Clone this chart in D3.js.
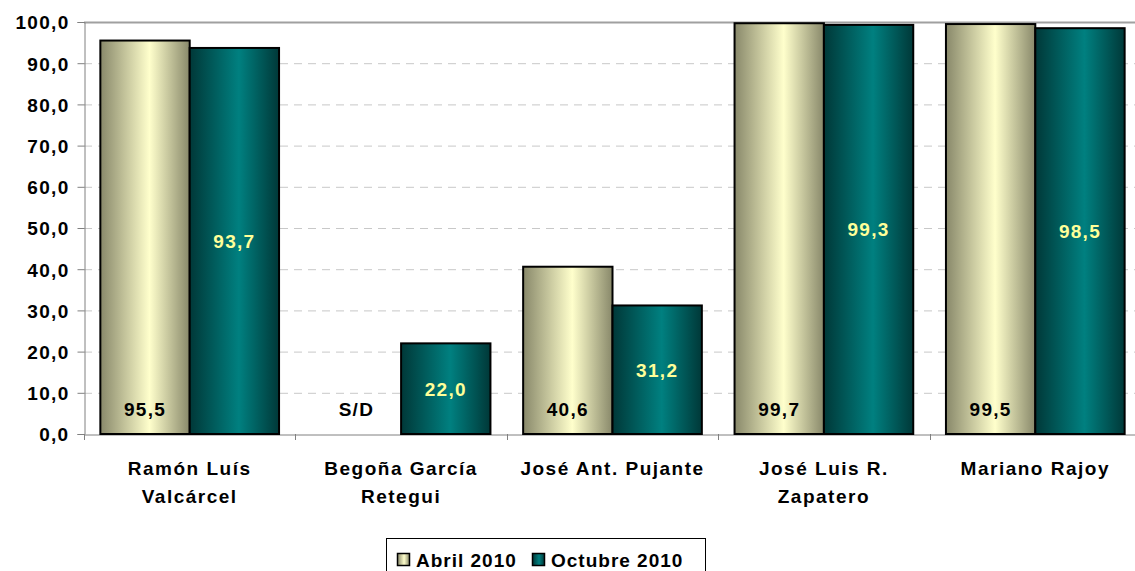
<!DOCTYPE html>
<html>
<head>
<meta charset="utf-8">
<script src="https://cdn.jsdelivr.net/npm/d3@7"></script>
<style>
  body { margin: 0; background: #fff; }
  svg text { font-family: "Liberation Sans", Arial, sans-serif; font-weight: bold; }
</style>
</head>
<body>
<div id="chart"></div>
<script>
document.addEventListener('DOMContentLoaded', function () {
  var categories = [["Ramón Luís", "Valcárcel"], ["Begoña García", "Retegui"], ["José Ant. Pujante"], ["José Luis R.", "Zapatero"], ["Mariano Rajoy"]];
  var series = ["Abril 2010", "Octubre 2010"];
  var abril = [95.5, null, 40.6, 99.7, 99.5];
  var octubre = [93.7, 22.0, 31.2, 99.3, 98.5];
  var yTicks = [0, 10, 20, 30, 40, 50, 60, 70, 80, 90, 100];

  var width = 1135, height = 571;
  var margin = { top: 22, right: -6, bottom: 137, left: 84 };

  var fmt = function(v) { return d3.format(".1f")(v).replace(".", ","); };

  var svg = d3.select("#chart").append("svg")
      .attr("width", width)
      .attr("height", height);

  var defs = svg.append("defs");
  function grad(id, edge, center) {
    var g = defs.append("linearGradient").attr("id", id)
        .attr("x1", "0%").attr("x2", "100%").attr("y1", "0%").attr("y2", "0%");
    g.append("stop").attr("offset", "0%").attr("stop-color", edge);
    g.append("stop").attr("offset", "55%").attr("stop-color", center);
    g.append("stop").attr("offset", "100%").attr("stop-color", edge);
  }
  grad("gAbril", "#88886a", "#ffffcc");
  grad("gOct", "#003838", "#008080");

  var x = d3.scaleBand()
      .domain(d3.range(categories.length))
      .range([margin.left, width - margin.right])
      .paddingInner(0).paddingOuter(0);

  var inner = d3.scaleBand()
      .domain(series)
      .range([0, x.bandwidth()])
      .paddingOuter(0.0915 / 0.5)
      .paddingInner(0);

  var y = d3.scaleLinear()
      .domain([0, 100])
      .range([height - margin.bottom, margin.top]);

  // gridlines
  svg.append("g").selectAll("line")
      .data(yTicks.filter(function(d) { return d > 0; }))
      .enter().append("line")
      .attr("x1", margin.left).attr("x2", width)
      .attr("y1", function(d) { return y(d) + 0.5; })
      .attr("y2", function(d) { return y(d) + 0.5; })
      .style("stroke", function(d) { return d === 100 ? "#a0a0a0" : "#c8c8c8"; })
      .style("stroke-width", function(d) { return d === 100 ? 2 : 1; })
      .style("stroke-dasharray", function(d) { return d === 100 ? null : "8,6"; });

  // y axis
  var yAxis = svg.append("g")
      .attr("transform", "translate(" + (margin.left + 0.5) + ",0)")
      .call(d3.axisLeft(y).tickValues(yTicks).tickSize(7).tickFormat(fmt));
  yAxis.select(".domain").style("stroke", "#808080");
  yAxis.selectAll(".tick line").style("stroke", "#808080");
  yAxis.selectAll("text").style("font-size", "19px").style("letter-spacing", "1.3px")
      .attr("fill", "#000").attr("x", -15).attr("dy", "0.36em");

  // x axis
  var xAxis = svg.append("g")
      .attr("transform", "translate(0," + (y(0) + 0.5) + ")")
      .call(d3.axisBottom(x).tickSize(0).tickFormat(""));
  xAxis.select(".domain").style("stroke", "#808080");
  svg.append("g").selectAll("line")
      .data(d3.range(categories.length + 1))
      .enter().append("line")
      .attr("x1", function(i) { return Math.round(margin.left + i * x.step()) + 0.5; })
      .attr("x2", function(i) { return Math.round(margin.left + i * x.step()) + 0.5; })
      .attr("y1", y(0)).attr("y2", y(0) + 6)
      .style("stroke", "#808080");

  // bars
  var data = [];
  categories.forEach(function(c, i) {
    data.push({ i: i, s: series[0], v: abril[i] });
    data.push({ i: i, s: series[1], v: octubre[i] });
  });

  var cells = svg.append("g").selectAll("g")
      .data(data)
      .enter().append("g");

  cells.filter(function(d) { return d.v !== null; })
    .append("rect")
      .attr("x", function(d) { return x(d.i) + inner(d.s); })
      .attr("y", function(d) { return y(d.v); })
      .attr("width", inner.bandwidth())
      .attr("height", function(d) { return y(0) - y(d.v); })
      .style("fill", function(d) { return d.s === series[0] ? "url(#gAbril)" : "url(#gOct)"; })
      .style("stroke", "#000")
      .style("stroke-width", 2);

  cells.append("text")
      .attr("x", function(d) { return x(d.i) + inner(d.s) + inner.bandwidth() / 2; })
      .attr("y", function(d) {
        if (d.s === series[0]) return y(0) - 25;
        return (y(d.v) + y(0)) / 2;
      })
      .attr("dy", "0.36em")
      .attr("text-anchor", "middle")
      .style("font-size", "19px")
      .style("letter-spacing", "1.3px")
      .attr("fill", function(d) { return d.s === series[0] ? "#000" : "#ffff99"; })
      .text(function(d) { return d.v === null ? "S/D" : fmt(d.v); });

  // category labels
  var catLabels = svg.append("g").selectAll("text")
      .data(categories)
      .enter().append("text")
      .attr("text-anchor", "middle")
      .attr("x", function(d, i) { return x(i) + x.bandwidth() / 2; })
      .attr("y", y(0) + 41)
      .style("font-size", "19px")
      .style("letter-spacing", "1.5px");
  catLabels.selectAll("tspan")
      .data(function(d) { return d; })
      .enter().append("tspan")
      .attr("x", function() { return d3.select(this.parentNode).attr("x"); })
      .attr("dy", function(d, j) { return j === 0 ? 0 : 28; })
      .text(function(d) { return d; });

  // legend
  var lg = svg.append("g").attr("transform", "translate(386,538)");
  lg.append("rect").attr("x", 0.5).attr("y", 0.5).attr("width", 319).attr("height", 40)
      .style("fill", "#fff").style("stroke", "#000");
  var items = [
    { name: series[0], fill: "url(#gAbril)", x: 11 },
    { name: series[1], fill: "url(#gOct)", x: 146 }
  ];
  var li = lg.selectAll(".li").data(items).enter().append("g")
      .attr("transform", function(d) { return "translate(" + d.x + ",0)"; });
  li.append("rect").attr("x", 0.5).attr("y", 15.5).attr("width", 12).attr("height", 12)
      .style("fill", function(d) { return d.fill; }).style("stroke", "#000").style("stroke-width", 1.5);
  li.append("text").attr("x", 19).attr("y", 29)
      .style("font-size", "19px").style("letter-spacing", "1px")
      .text(function(d) { return d.name; });
});
</script>
</body>
</html>
